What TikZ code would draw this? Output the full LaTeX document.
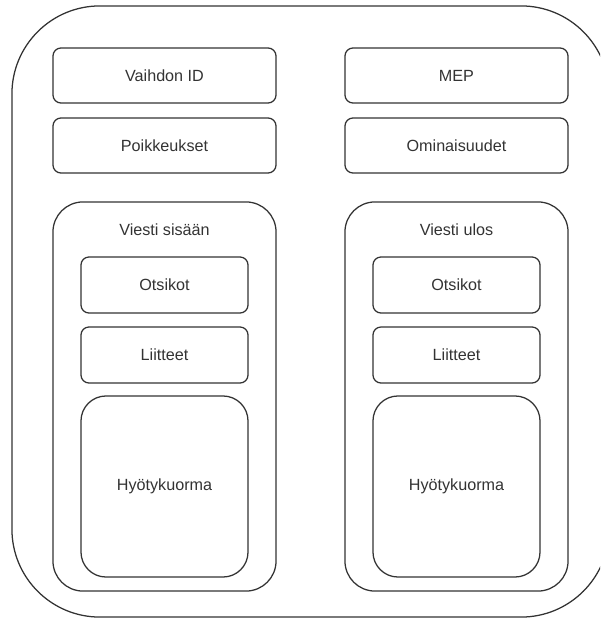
\documentclass[tikz,border=0pt]{standalone}
\usepackage{fontspec}
\setmainfont{Liberation Sans}
\begin{document}
\begin{tikzpicture}[x=0.025cm,y=-0.025cm,line width=0.9pt,
  every node/.style={text=black!80, font=\fontsize{11.5}{13}\selectfont},
  box/.style={draw=black!80, rounded corners=0.2cm, minimum width=5.575cm, minimum height=1.375cm, inner sep=0pt, outer sep=0pt},
  part/.style={box, minimum width=4.175cm, minimum height=1.4cm},
  body/.style={part, rounded corners=0.625cm, minimum height=4.525cm},
  msg/.style={box, rounded corners=0.75cm, minimum height=9.725cm}]
\useasboundingbox (0,0) rectangle (600,619);
\clip (0,0) rectangle (600,619);
\node[box, rounded corners=2.2cm, minimum width=14.925cm, minimum height=15.275cm] (kehys) at (310.5,311.5) {};
\node[box] (id) at (164.5,75.5) {Vaihdon ID};
\node[box] (mep) at (456.5,75.5) {MEP};
\node[box] (poik) at (164.5,145.5) {Poikkeukset};
\node[box] (omin) at (456.5,145.5) {Ominaisuudet};
\foreach \n/\x/\t in {sisaan/164.5/Viesti sisään, ulos/456.5/Viesti ulos}{
  \node[msg] (\n) at (\x,396.5) {};
  \node (\n-nimi) at (\x,230) {\t};
  \node[part] (\n-otsikot) at (\x,285) {Otsikot};
  \node[part] (\n-liitteet) at (\x,355) {Liitteet};
  \node[body] (\n-kuorma) at (\x,486.5) {Hyötykuorma};
}
\end{tikzpicture}
\end{document}
